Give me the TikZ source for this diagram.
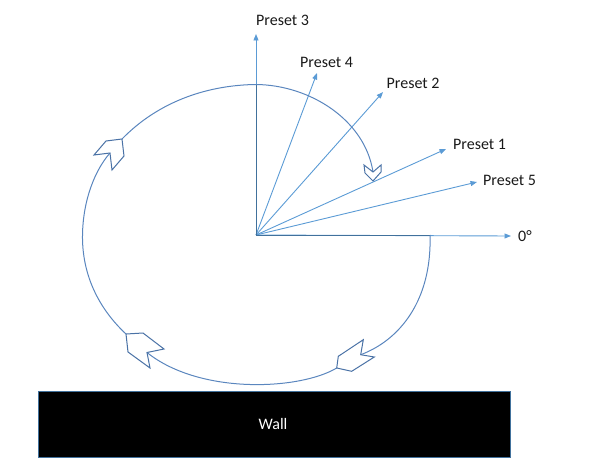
\documentclass[tikz,border=0pt]{standalone}
\usepackage{fontspec}
\setmainfont{Carlito}
\usetikzlibrary{arrows.meta}
\definecolor{ray}{HTML}{5B9BD5}
\definecolor{axis}{HTML}{41719C}
\definecolor{arc}{HTML}{5A86BE}
\definecolor{chev}{HTML}{4A72A6}
\tikzset{
  raylink/.style={draw=ray, line width=0.9pt, -{Triangle[length=6.5pt,width=5pt]}},
  axisline/.style={draw=axis, line width=1pt},
  arcline/.style={draw=arc, line width=1pt},
  chevron/.style={draw=chev, line width=1pt, fill=white, line join=miter},
  lbl/.style={font=\fontsize{16}{18}\selectfont, text=black!90, inner sep=0pt, anchor=base west},
}
\begin{document}
\begin{tikzpicture}[x=1pt,y=-1pt]
\useasboundingbox (0,0) rectangle (601,460);
% origin and ray tips
\coordinate (O) at (256,235);
\coordinate (t3) at (256,34);
\coordinate (t4) at (317,73);
\coordinate (t2) at (383,92);
\coordinate (t1) at (446,149);
\coordinate (t5) at (477,182);
\coordinate (t0) at (511,236);
\coordinate (topA) at (256,85);
\coordinate (rightA) at (430,235);
% rays
\draw[raylink] (O) -- (t3);
\draw[raylink] (O) -- (t4);
\draw[raylink] (O) -- (t2);
\draw[raylink] (O) -- (t1);
\draw[raylink] (O) -- (t5);
\draw[raylink] (O) -- (t0);
% dark axis lines
\draw[axisline] (topA) -- (O) -- (rightA);
% labels
\node[lbl] (l3) at (256,26) {Preset 3};
\node[lbl] (l4) at (300,67.5) {Preset 4};
\node[lbl] (l2) at (386.5,88.5) {Preset 2};
\node[lbl] (l1) at (453,149.5) {Preset 1};
\node[lbl] (l5) at (483,185.5) {Preset 5};
\node[lbl] (l0) at (518,241.5) {0°};
% arc end points
\coordinate (cL) at (122,139);   % left chevron tip
\coordinate (nTR) at (373,172);  % top-right chevron notch
\coordinate (nBR) at (360.7,354.7);
\coordinate (tBR) at (336.7,368);
\coordinate (nBL) at (147,352.5);
\coordinate (tBL) at (126,334);
\coordinate (nL) at (110,153);
% arcs
\draw[arcline] (cL) .. controls (160,100) and (210,85) .. (256,84.5)
  .. controls (310,85) and (365,120) .. (nTR);
\draw[arcline] (rightA) .. controls (432,300) and (400,340) .. (nBR);
\draw[arcline] (tBR) .. controls (300,390) and (200,395) .. (nBL);
\draw[arcline] (tBL) .. controls (95,305) and (82,270) .. (82.5,235)
  .. controls (83,200) and (95,170) .. (nL);
% chevron heads
\draw[chevron] (364,165) -- (365,173) -- (373,181) -- (381,172) -- (381,165) -- (nTR) -- cycle;
\draw[chevron] (tBR) -- (338.3,356.3) -- (363.3,339.7) -- (nBR) -- (374.3,357) -- (351.7,371.3) -- cycle;
\draw[chevron] (tBL) -- (143,333) -- (164,349) -- (nBL) -- (150,368) -- (128,352) -- cycle;
\draw[chevron] (cL) -- (124,156) -- (112,170) -- (nL) -- (94,155) -- (106,141) -- cycle;
% wall
\node[draw=axis, line width=0.8pt, fill=black, minimum width=471.7pt, minimum height=65.6pt, inner sep=0pt] (wall) at (274.15,424.5) {};
\node[font=\fontsize{16}{18}\selectfont, text=white, inner sep=0pt, anchor=base] (walltxt) at (273,429.5) {Wall};
\end{tikzpicture}
\end{document}
